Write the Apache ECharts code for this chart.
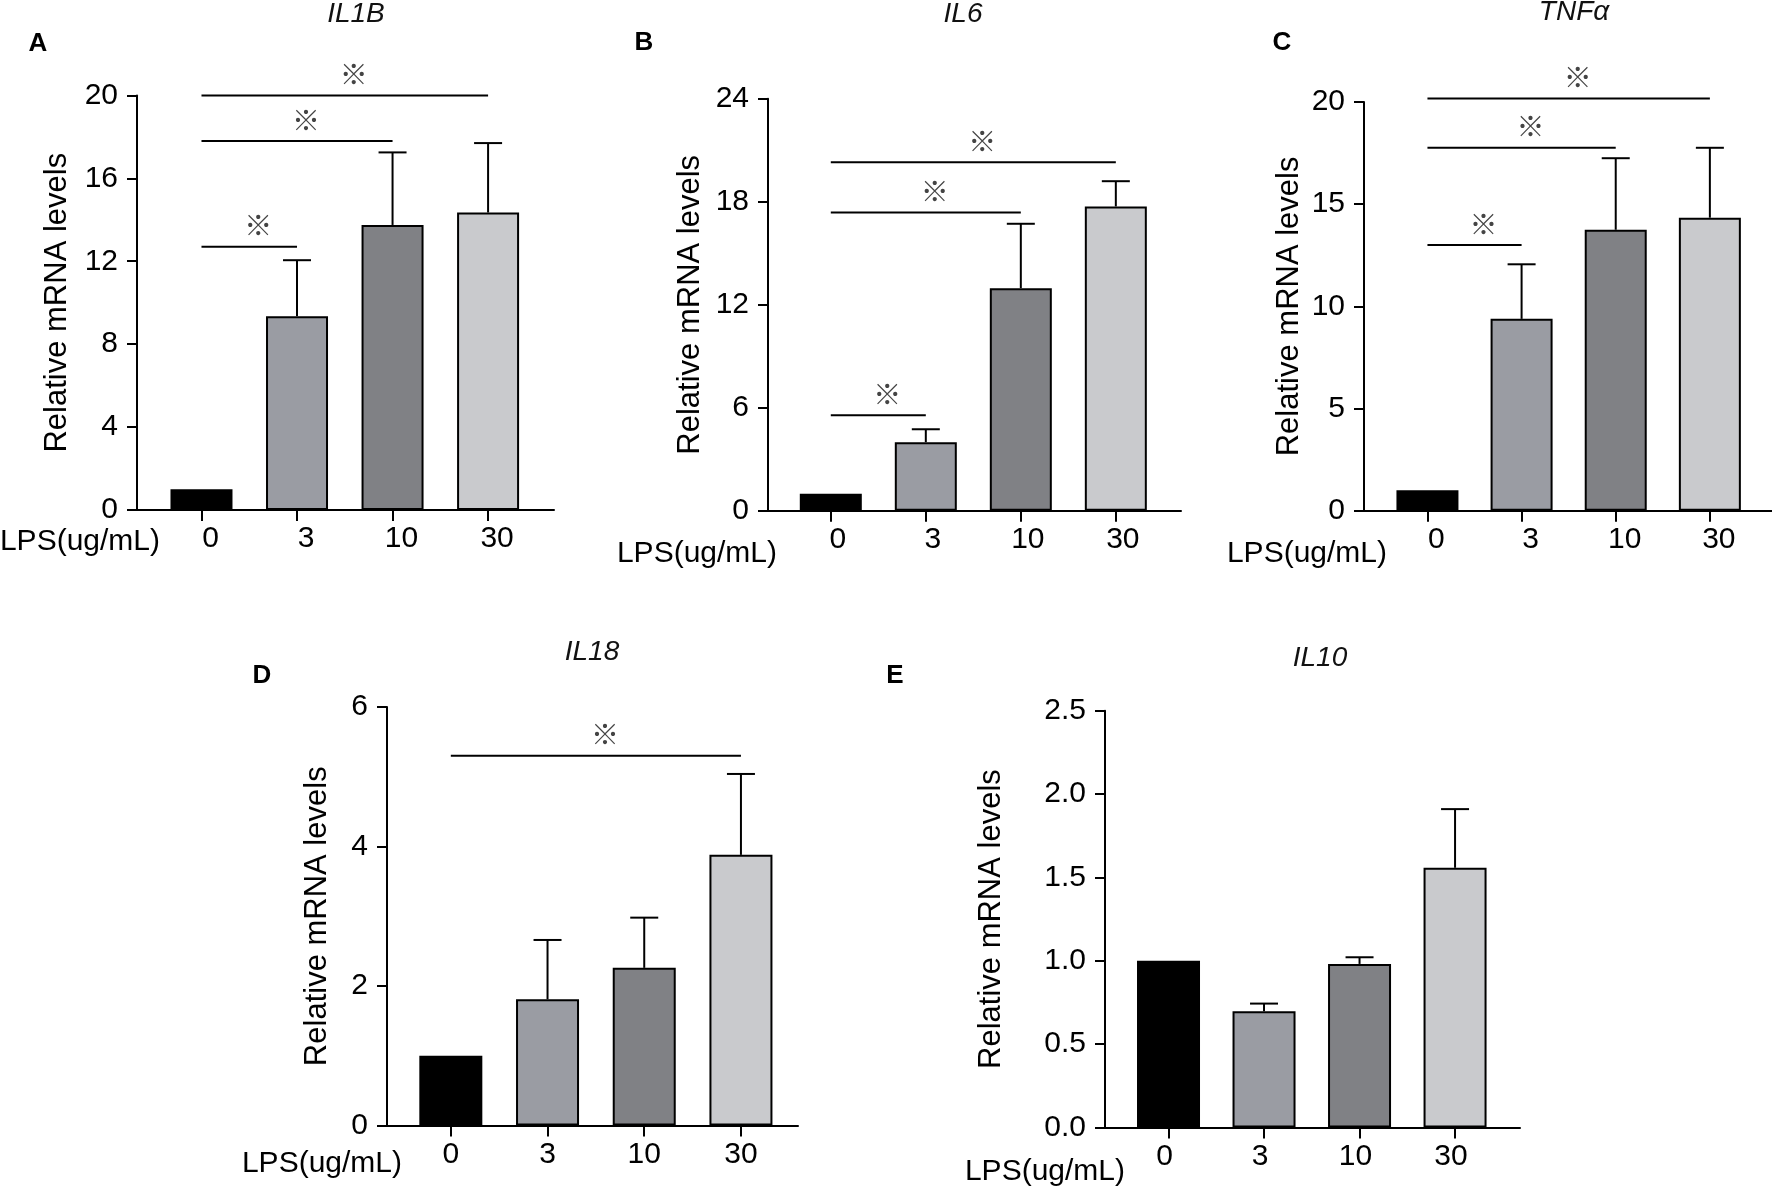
<!DOCTYPE html>
<html>
<head>
<meta charset="utf-8">
<title>LPS dose response</title>
<script src="https://cdn.jsdelivr.net/npm/echarts@6/dist/echarts.min.js"></script>
<style>
  html, body { margin: 0; padding: 0; background: #fff; }
  #main { width: 1772px; height: 1187px; }
</style>
</head>
<body>
<div id="main"></div>
<script>
// LPS doses on the x axis (same for every panel)
var doses = ['0', '3', '10', '30'];
var barColors = ['#000000', '#9a9ca3', '#808185', '#c9cacd'];

// A - IL1B
var il1bMean = [1.0, 9.35, 13.75, 14.35];
var il1bSd = [0, 2.7, 3.5, 3.35];
var il1bSig = [[0, 1, 12.7], [0, 2, 17.8], [0, 3, 20.0]];
var il1bTicks = [0, 20, 4];

// B - IL6
var il6Mean = [1.0, 4.0, 12.97, 17.73];
var il6Sd = [0, 0.75, 3.75, 1.47];
var il6Sig = [[0, 1, 5.56], [0, 2, 17.37], [0, 3, 20.3]];
var il6Ticks = [0, 24, 6];

// C - TNFa
var tnfMean = [1.0, 9.39, 13.75, 14.34];
var tnfSd = [0, 2.67, 3.5, 3.42];
var tnfSig = [[0, 1, 13.0], [0, 2, 17.76], [0, 3, 20.17]];
var tnfTicks = [0, 20, 5];

// D - IL18
var il18Mean = [1.0, 1.81, 2.26, 3.88];
var il18Sd = [0, 0.85, 0.72, 1.16];
var il18Sig = [[0, 3, 5.3]];
var il18Ticks = [0, 6, 2];

// E - IL10
var il10Mean = [1.0, 0.697, 0.981, 1.558];
var il10Sd = [0, 0.046, 0.04, 0.352];
var il10Sig = [];
var il10Ticks = [0, 2.5, 0.5];

var FONT = '"Liberation Sans", Arial, Helvetica, sans-serif';

// layout of each panel (pixels)
var panels = [
    { letter: 'A', title: 'IL1B', mean: il1bMean, sd: il1bSd, sig: il1bSig, ticks: il1bTicks,
      left: 137, top: 95.4, width: 417, height: 414.6, xmin: -0.675, xmax: 3.69, barW: 62,
      nameGap: 64, labelShift: 9, decimals: 0,
      letterPos: [38, 44], titlePos: [356, 14], lpsPos: [160, 542] },
    { letter: 'B', title: 'IL6', mean: il6Mean, sd: il6Sd, sig: il6Sig, ticks: il6Ticks,
      left: 768, top: 98.8, width: 413, height: 412, xmin: -0.661, xmax: 3.686, barW: 62,
      nameGap: 62, labelShift: 7, decimals: 0,
      letterPos: [644, 43], titlePos: [963, 14], lpsPos: [777, 554] },
    { letter: 'C', title: 'TNFα', mean: tnfMean, sd: tnfSd, sig: tnfSig, ticks: tnfTicks,
      left: 1364, top: 102, width: 408, height: 408.8, xmin: -0.674, xmax: 3.66, barW: 62,
      nameGap: 59, labelShift: 9, decimals: 0,
      letterPos: [1282, 43], titlePos: [1574, 12], lpsPos: [1387, 554] },
    { letter: 'D', title: 'IL18', mean: il18Mean, sd: il18Sd, sig: il18Sig, ticks: il18Ticks,
      left: 387, top: 707, width: 411, height: 418.5, xmin: -0.66, xmax: 3.59, barW: 63,
      nameGap: 54, labelShift: 0, decimals: 0,
      letterPos: [262, 676], titlePos: [592, 652], lpsPos: [402, 1164] },
    { letter: 'E', title: 'IL10', mean: il10Mean, sd: il10Sd, sig: il10Sig, ticks: il10Ticks,
      left: 1105, top: 710.8, width: 415, height: 416.6, xmin: -0.665, xmax: 3.68, barW: 63,
      nameGap: 98, labelShift: -4, decimals: 1,
      letterPos: [895, 676], titlePos: [1320, 658], lpsPos: [1125, 1172] }
];

var grids = [], xAxes = [], yAxes = [], series = [], graphics = [];

panels.forEach(function (p, i) {
    grids.push({ left: p.left, top: p.top, width: p.width, height: p.height, outerBoundsMode: 'none', containLabel: false });

    xAxes.push({
        type: 'value', gridIndex: i, min: p.xmin, max: p.xmax,
        splitLine: { show: false },
        axisLine: { show: true, onZero: false, lineStyle: { color: '#000', width: 2 } },
        axisTick: { show: true, customValues: [0, 1, 2, 3], length: 11, lineStyle: { color: '#000', width: 2 } },
        axisLabel: {
            customValues: [0, 1, 2, 3], margin: 14, color: '#000', fontSize: 30, fontFamily: FONT,
            padding: p.labelShift >= 0 ? [0, 0, 0, p.labelShift * 2] : [0, -p.labelShift * 2, 0, 0],
            formatter: function (v) { return doses[Math.round(v)]; }
        }
    });

    yAxes.push({
        type: 'value', gridIndex: i, min: p.ticks[0], max: p.ticks[1], interval: p.ticks[2],
        name: 'Relative mRNA levels', nameLocation: 'middle', nameGap: p.nameGap,
        nameTextStyle: { color: '#000', fontSize: 31, fontFamily: FONT },
        splitLine: { show: false },
        axisLine: { show: true, onZero: false, lineStyle: { color: '#000', width: 2 } },
        axisTick: { show: true, length: 10, lineStyle: { color: '#000', width: 2 } },
        axisLabel: {
            margin: 19, color: '#000', fontSize: 30, fontFamily: FONT,
            formatter: function (v) { return v.toFixed(p.decimals); }
        }
    });

    // bars
    series.push({
        type: 'bar', xAxisIndex: i, yAxisIndex: i, barWidth: p.barW,
        data: p.mean.map(function (m, k) {
            return { value: [k, m], itemStyle: { color: barColors[k], borderColor: '#000', borderWidth: 2 } };
        }),
        silent: true, z: 2
    });

    // error bars (upper only)
    series.push({
        type: 'custom', xAxisIndex: i, yAxisIndex: i, silent: true, z: 3,
        data: p.mean.map(function (m, k) { return [k, m, m + p.sd[k]]; }).filter(function (d) { return d[2] > d[1]; }),
        renderItem: function (params, api) {
            var base = api.coord([api.value(0), api.value(1)]);
            var top = api.coord([api.value(0), api.value(2)]);
            var cap = 14;
            var st = { stroke: '#000', lineWidth: 2 };
            return {
                type: 'group', children: [
                    { type: 'line', shape: { x1: base[0], y1: base[1], x2: top[0], y2: top[1] }, style: st },
                    { type: 'line', shape: { x1: top[0] - cap, y1: top[1], x2: top[0] + cap, y2: top[1] }, style: st }
                ]
            };
        }
    });

    // significance brackets
    if (p.sig.length) {
        series.push({
            type: 'custom', xAxisIndex: i, yAxisIndex: i, silent: true, z: 4,
            data: p.sig,
            renderItem: function (params, api) {
                var a = api.coord([api.value(0), api.value(2)]);
                var b = api.coord([api.value(1), api.value(2)]);
                return {
                    type: 'group', children: [
                        { type: 'line', shape: { x1: a[0], y1: a[1], x2: b[0], y2: b[1] }, style: { stroke: '#000', lineWidth: 2 } },
                        { type: 'text', x: (a[0] + b[0]) / 2 + 9, y: a[1] - 21,
                          style: { text: '※', fill: '#444', fontSize: 28, fontFamily: '"Noto Sans CJK SC", "DejaVu Sans", sans-serif',
                                   fontWeight: 300, align: 'center', verticalAlign: 'middle' } }
                    ]
                };
            }
        });
    }

    graphics.push({ type: 'text', x: p.letterPos[0], y: p.letterPos[1],
        style: { text: p.letter, fill: '#000', font: 'bold 26px ' + FONT, align: 'center', verticalAlign: 'middle' } });
    graphics.push({ type: 'text', x: p.titlePos[0], y: p.titlePos[1],
        style: { text: p.title, fill: '#111', font: 'italic 28px ' + FONT, align: 'center', verticalAlign: 'middle' } });
    graphics.push({ type: 'text', x: p.lpsPos[0], y: p.lpsPos[1],
        style: { text: 'LPS(ug/mL)', fill: '#000', font: '30px ' + FONT, align: 'right', verticalAlign: 'middle' } });
});

var chart = echarts.init(document.getElementById('main'));
chart.setOption({
    animation: false,
    backgroundColor: '#fff',
    grid: grids,
    xAxis: xAxes,
    yAxis: yAxes,
    series: series,
    graphic: graphics
});
</script>
</body>
</html>
